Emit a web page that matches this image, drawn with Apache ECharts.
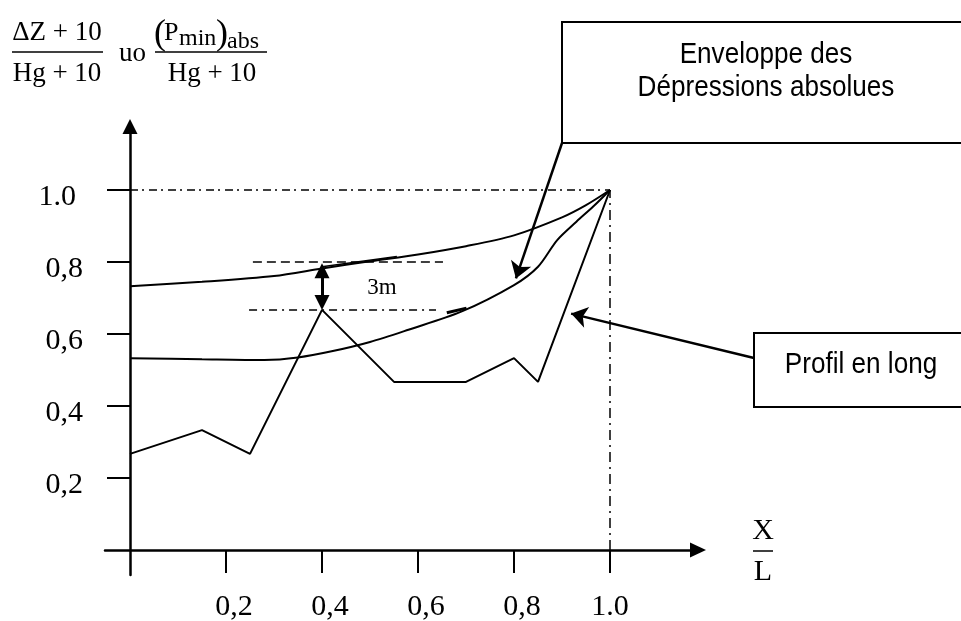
<!DOCTYPE html>
<html><head><meta charset="utf-8">
<script src="https://cdn.jsdelivr.net/npm/echarts@6/dist/echarts.min.js"></script>
<style>html,body{margin:0;padding:0;background:#fff}#c{width:961px;height:621px}</style>
</head><body><div id="c"></div>
<script>
// ---- tick values and labels ----
const xTicks = [0.2, 0.4, 0.6, 0.8, 1.0];
const xTickLabels = ['0,2', '0,4', '0,6', '0,8', '1.0'];
const yTicks = [0.2, 0.4, 0.6, 0.8, 1.0];
const yTickLabels = ['0,2', '0,4', '0,6', '0,8', '1.0'];

// ---- Profil en long (polyline) ----
const profileX = [0, 0.15, 0.25, 0.40, 0.55, 0.70, 0.80, 0.85, 1.0];
const profileY = [0.267, 0.333, 0.267, 0.667, 0.467, 0.467, 0.533, 0.467, 1.0];

// ---- upper envelope ----
const upperX = [0, 0.15, 0.30, 0.40, 0.50, 0.60, 0.70, 0.80, 0.90, 0.95, 1.0];
const upperY = [0.733, 0.745, 0.761, 0.782, 0.802, 0.821, 0.844, 0.874, 0.924, 0.958, 1.0];

// ---- lower envelope (dépressions absolues) ----
const lowerX = [0, 0.15, 0.28, 0.35, 0.42, 0.50, 0.58, 0.69, 0.80, 0.85, 0.89, 0.93, 0.965, 1.0];
const lowerY = [0.533, 0.530, 0.528, 0.535, 0.552, 0.578, 0.612, 0.662, 0.736, 0.787, 0.861, 0.912, 0.954, 1.0];

// ---- annotation anchors (data space) ----
const refLevel = 1.0;
const dashedLevel = 0.8, dashedFrom = 0.256, dashedTo = 0.652;
const peakLevel = 0.667, peakFrom = 0.248, peakTo = 0.6375;
const gapX = 0.4, gapTop = 0.776, gapBottom = 0.6875;
const gapLabel = [0.525, 0.729];
const callout1 = [[0.9, 1.1306], [0.804, 0.7544]];
const callout2 = [[1.3, 0.5333], [0.919, 0.6567]];
const upperStub = [[0.40, 0.787], [0.556, 0.815]];
const lowerStub = [[0.66, 0.659], [0.701, 0.672]];

const zip = (xs, ys) => xs.map((x, i) => [x, ys[i]]);
const SERIF = '"Liberation Serif", "Times New Roman", serif';
const SANS = '"Liberation Sans", Arial, sans-serif';

const chart = echarts.init(document.getElementById('c'), null, {renderer: 'canvas'});

function lookup(ticks, labels, v) {
  const i = ticks.findIndex(t => Math.abs(t - v) < 1e-6);
  return i < 0 ? '' : labels[i];
}
const ls = (w, type) => ({color: '#000', width: w, type: type || 'solid', opacity: 1});

const option = {
  animation: false,
  backgroundColor: '#fff',
  grid: {left: 105, right: 263, top: 126.5, bottom: 46, containLabel: false, outerBoundsMode: 'none'},
  xAxis: {
    type: 'value', min: -0.0521, max: 1.1833,
    splitLine: {show: false},
    axisLine: {show: true, onZero: true, lineStyle: {color: '#000', width: 2.5},
      symbol: ['none', 'triangle'], symbolSize: [15, 16]},
    axisTick: {show: true, inside: false, length: 23, customValues: xTicks,
      lineStyle: {color: '#000', width: 2}},
    axisLabel: {show: true, customValues: xTicks, margin: 17, hideOverlap: false,
      fontFamily: SERIF, fontSize: 30, color: '#000',
      formatter: v => {
        const s = lookup(xTicks, xTickLabels, v);
        return s.indexOf(',') >= 0 ? '{c|' + s + '}' : '{d|' + s + '}';
      },
      rich: {
        c: {fontFamily: SERIF, fontSize: 30, color: '#000', padding: [0, 0, 0, 16]},
        d: {fontFamily: SERIF, fontSize: 30, color: '#000'}
      }}
  },
  yAxis: {
    type: 'value', min: -0.0694, max: 1.1764,
    splitLine: {show: false},
    axisLine: {show: true, onZero: true, lineStyle: {color: '#000', width: 2.5},
      symbol: ['none', 'triangle'], symbolSize: [15, 15]},
    axisTick: {show: true, inside: false, length: 23, customValues: yTicks,
      lineStyle: {color: '#000', width: 2}},
    axisLabel: {show: true, customValues: yTicks, margin: 22, align: 'right',
      padding: [14, 0, 0, 0], hideOverlap: false,
      fontFamily: SERIF, fontSize: 30, color: '#000',
      formatter: v => {
        const s = lookup(yTicks, yTickLabels, v);
        return s.indexOf(',') >= 0 ? '{c|' + s + '}' : '{d|' + s + '}';
      },
      rich: {
        c: {fontFamily: SERIF, fontSize: 30, color: '#000'},
        d: {fontFamily: SERIF, fontSize: 30, color: '#000', padding: [0, 7, 0, 0]}
      }}
  },
  series: [
    {
      name: 'Profil en long', type: 'line', data: zip(profileX, profileY),
      symbol: 'none', lineStyle: ls(2), z: 5
    },
    {
      name: 'Enveloppe haute', type: 'line', data: zip(upperX, upperY),
      symbol: 'none', smooth: 0.3,
      lineStyle: ls(2), z: 5
    },
    {
      name: 'Enveloppe des Dépressions absolues', type: 'line', data: zip(lowerX, lowerY),
      symbol: 'none', smooth: 0.3,
      lineStyle: ls(2), z: 5
    },
    {
      name: 'refs', type: 'lines', coordinateSystem: 'cartesian2d', clip: false,
      symbol: 'none', silent: true, z: 4, lineStyle: ls(1.5),
      data: [
        {coords: [[0, refLevel], [1.0, refLevel]], lineStyle: ls(1.5, [8, 4, 2, 5])},
        {coords: [[1.0, 0], [1.0, refLevel]], lineStyle: ls(1.5, [10, 5, 2, 5])},
        {coords: [[dashedFrom, dashedLevel], [dashedTo, dashedLevel]], lineStyle: ls(1.5, [9, 5])},
        {coords: [[peakFrom, peakLevel], [peakTo, peakLevel]], lineStyle: ls(1.5, [8, 5, 2, 5])},
        {coords: upperStub, lineStyle: ls(1.5)},
        {coords: lowerStub, lineStyle: ls(3)}
      ]
    },
    {
      name: 'gap', type: 'lines', coordinateSystem: 'cartesian2d', clip: false,
      symbol: ['triangle', 'triangle'], symbolSize: [15, 15], silent: true, z: 6,
      lineStyle: ls(3),
      data: [{coords: [[gapX, gapBottom], [gapX, gapTop]]}]
    },
    {
      name: 'callouts', type: 'lines', coordinateSystem: 'cartesian2d', clip: false,
      symbol: ['none', 'arrow'], symbolSize: [14, 16], silent: true, z: 6,
      lineStyle: ls(2.5),
      data: [{coords: callout1}, {coords: callout2}]
    },
    {
      name: '3m', type: 'scatter', data: [gapLabel], symbolSize: 0, silent: true,
      itemStyle: {opacity: 1, color: '#000'},
      label: {show: true, position: 'inside', formatter: '3m',
        fontFamily: SERIF, fontSize: 23, color: '#000', opacity: 1}
    }
  ],
  graphic: [
    // formula on the y axis side
    {type: 'text', x: 57, y: 32.6, style: {text: 'ΔZ + 10', font: '27px ' + SERIF, fill: '#000', align: 'center', verticalAlign: 'middle'}},
    {type: 'line', shape: {x1: 12, y1: 52, x2: 103, y2: 52}, style: {stroke: '#000', lineWidth: 1.5}},
    {type: 'text', x: 57, y: 74.2, style: {text: 'Hg + 10', font: '27px ' + SERIF, fill: '#000', align: 'center', verticalAlign: 'middle'}},
    {type: 'text', x: 132.5, y: 54.2, style: {text: 'uo', font: '27px ' + SERIF, fill: '#000', align: 'center', verticalAlign: 'middle'}},
    {type: 'text', x: 154, y: 35, style: {text: '(', font: '36px ' + SERIF, fill: '#000', align: 'left', verticalAlign: 'middle'}},
    {type: 'text', x: 164, y: 32.9, style: {text: 'P', font: '26px ' + SERIF, fill: '#000', align: 'left', verticalAlign: 'middle'}},
    {type: 'text', x: 179, y: 38.6, style: {text: 'min', font: '24px ' + SERIF, fill: '#000', align: 'left', verticalAlign: 'middle'}},
    {type: 'text', x: 216, y: 35, style: {text: ')', font: '36px ' + SERIF, fill: '#000', align: 'left', verticalAlign: 'middle'}},
    {type: 'text', x: 227, y: 41.9, style: {text: 'abs', font: '24px ' + SERIF, fill: '#000', align: 'left', verticalAlign: 'middle'}},
    {type: 'line', shape: {x1: 155, y1: 52, x2: 267, y2: 52}, style: {stroke: '#000', lineWidth: 1.5}},
    {type: 'text', x: 212, y: 74.2, style: {text: 'Hg + 10', font: '27px ' + SERIF, fill: '#000', align: 'center', verticalAlign: 'middle'}},
    // X / L axis name
    {type: 'text', x: 763, y: 531.6, style: {text: 'X', font: '30px ' + SERIF, fill: '#000', align: 'center', verticalAlign: 'middle'}},
    {type: 'line', shape: {x1: 753, y1: 551, x2: 773, y2: 551}, style: {stroke: '#000', lineWidth: 1.5}},
    {type: 'text', x: 763, y: 571.9, style: {text: 'L', font: '30px ' + SERIF, fill: '#000', align: 'center', verticalAlign: 'middle'}},
    // callout boxes
    {type: 'rect', shape: {x: 562, y: 22, width: 420, height: 121}, style: {fill: '#fff', stroke: '#000', lineWidth: 2}, z: 10},
    {type: 'text', x: 766, y: 54.6, scaleX: 0.87, z: 11, style: {text: 'Enveloppe des', font: '30px ' + SANS, fill: '#000', align: 'center', verticalAlign: 'middle'}},
    {type: 'text', x: 766, y: 87.9, scaleX: 0.87, z: 11, style: {text: 'Dépressions absolues', font: '30px ' + SANS, fill: '#000', align: 'center', verticalAlign: 'middle'}},
    {type: 'rect', shape: {x: 754, y: 333, width: 230, height: 74}, style: {fill: '#fff', stroke: '#000', lineWidth: 2}, z: 10},
    {type: 'text', x: 861, y: 364.6, scaleX: 0.87, z: 11, style: {text: 'Profil en long', font: '30px ' + SANS, fill: '#000', align: 'center', verticalAlign: 'middle'}}
  ]
};
chart.setOption(option);
</script></body></html>
